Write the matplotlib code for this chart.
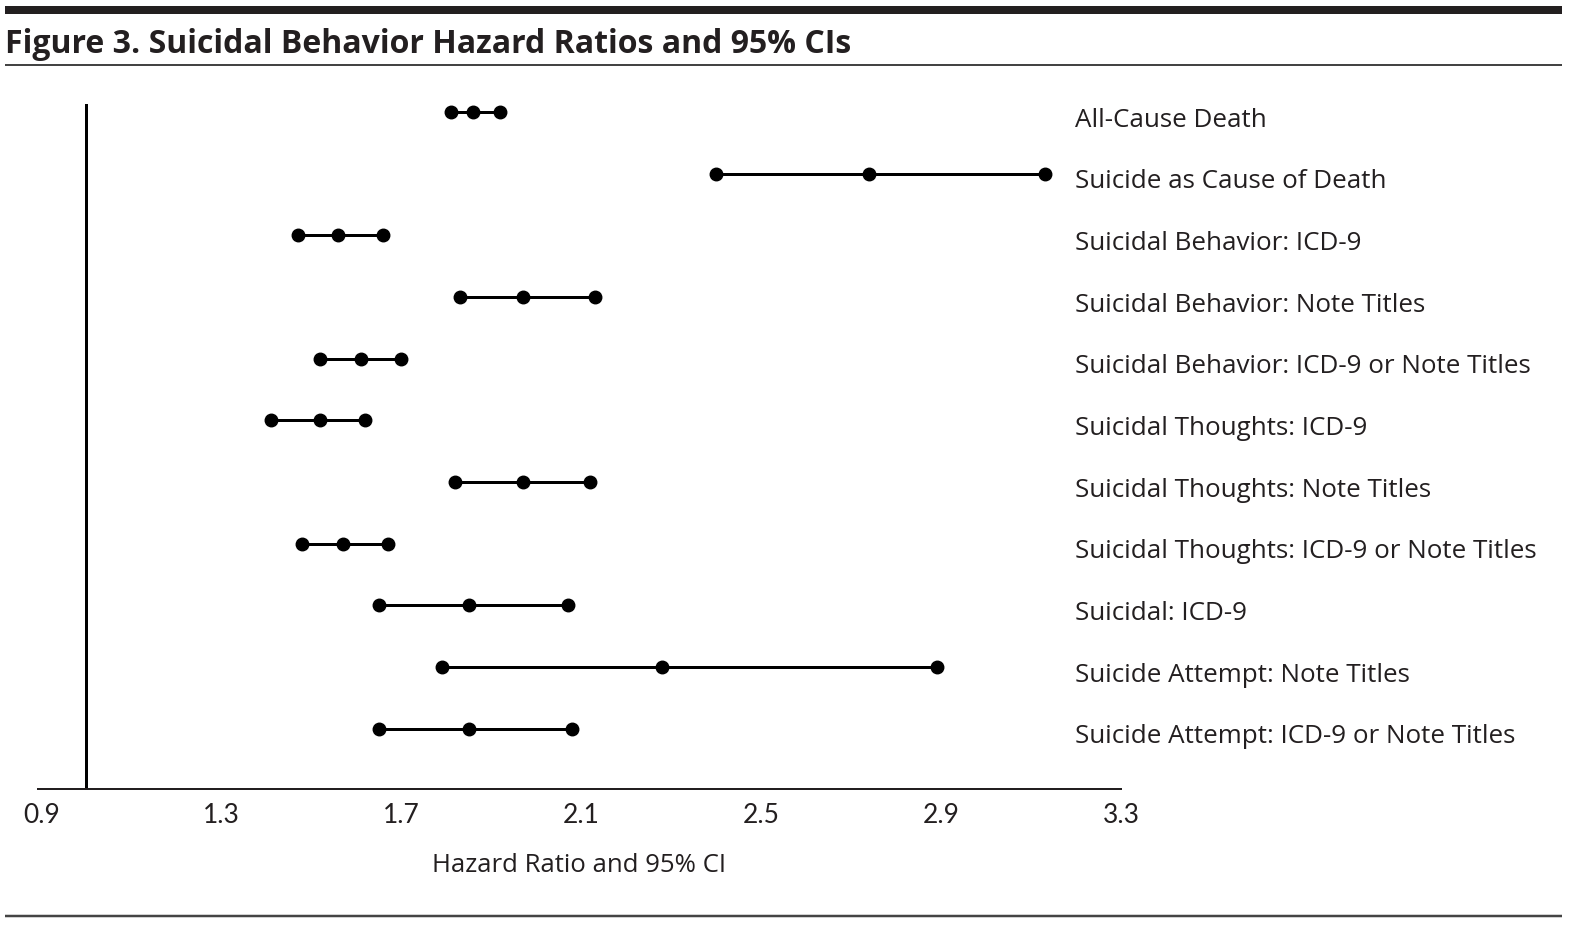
import matplotlib
matplotlib.use("Agg")
import matplotlib.pyplot as plt
from matplotlib.lines import Line2D
import matplotlib.transforms as mtransforms

# ---- data ----
outcomes = [
    "All-Cause Death",
    "Suicide as Cause of Death",
    "Suicidal Behavior: ICD-9",
    "Suicidal Behavior: Note Titles",
    "Suicidal Behavior: ICD-9 or Note Titles",
    "Suicidal Thoughts: ICD-9",
    "Suicidal Thoughts: Note Titles",
    "Suicidal Thoughts: ICD-9 or Note Titles",
    "Suicidal: ICD-9",
    "Suicide Attempt: Note Titles",
    "Suicide Attempt: ICD-9 or Note Titles",
]
hazard_ratio = [1.86, 2.74, 1.56, 1.97, 1.61, 1.52, 1.97, 1.57, 1.85, 2.28, 1.85]
ci_lower = [1.81, 2.40, 1.47, 1.83, 1.52, 1.41, 1.82, 1.48, 1.65, 1.79, 1.65]
ci_upper = [1.92, 3.13, 1.66, 2.13, 1.70, 1.62, 2.12, 1.67, 2.07, 2.89, 2.08]
xticks = [0.9, 1.3, 1.7, 2.1, 2.5, 2.9, 3.3]
reference_hr = 1.0

title = "Figure 3. Suicidal Behavior Hazard Ratios and 95% CIs"
xlabel = "Hazard Ratio and 95% CI"

# ---- style ----
W, H = 1578, 930
INK = "#231f20"
BODY_FONT = ["Open Sans", "DejaVu Sans"]
TICK_FONT = ["Lato", "DejaVu Sans"]
px = 72.0 / 100.0  # points per pixel

fig = plt.figure(figsize=(W / 100, H / 100), dpi=100)
fig.patch.set_facecolor("white")

ax_left, ax_right, ax_top, ax_bottom = 38, 1121, 104, 789
ax = fig.add_axes([ax_left / W, (H - ax_bottom) / H,
                   (ax_right - ax_left) / W, (ax_bottom - ax_top) / H])

row0, row_step = 112, 61.65
ax.set_ylim((ax_bottom - row0) / row_step, (ax_top - row0) / row_step)
ax.set_xlim(0.893, 3.3)

rows = list(range(len(outcomes)))

# reference line
ax.axvline(reference_hr, color="black", lw=3 * px, zorder=1)

for i in rows:
    ax.plot([ci_lower[i], ci_upper[i]], [i, i], color="black", lw=3 * px,
            solid_capstyle="butt", zorder=2)
    ax.plot([ci_lower[i], hazard_ratio[i], ci_upper[i]], [i, i, i],
            linestyle="none", marker="o", markersize=12.5 * px,
            color="black", zorder=3)

for s in ("top", "right", "left"):
    ax.spines[s].set_visible(False)
ax.spines["bottom"].set_linewidth(2 * px)
ax.spines["bottom"].set_color(INK)
ax.set_yticks([])
ax.set_xticks(xticks)
ax.set_xticklabels([f"{t:.1f}" for t in xticks], family=TICK_FONT,
                   fontsize=19, color=INK)
ax.tick_params(axis="x", length=0, pad=10)
ax.set_xlabel(xlabel, family=BODY_FONT, fontsize=18.5, color=INK, labelpad=18)

# row labels at the right
trans = mtransforms.blended_transform_factory(fig.transFigure, ax.transData)
for i, lab in enumerate(outcomes):
    ax.text(1075 / W, i + 0.24, lab, transform=trans, ha="left", va="baseline",
            family=BODY_FONT, fontsize=18.7, color=INK, clip_on=False)

# title and decorative rules
fig.text(5 / W, 1 - 53 / H, title, ha="left", va="baseline",
         family=BODY_FONT, fontweight="bold", fontsize=23, color=INK)
fig.add_artist(Line2D([5 / W, 1562 / W], [1 - 10.5 / H] * 2, lw=8 * px,
                      color=INK, solid_capstyle="butt"))
fig.add_artist(Line2D([5 / W, 1562 / W], [1 - 65 / H] * 2, lw=2 * px,
                      color="#444444", solid_capstyle="butt"))
fig.add_artist(Line2D([5 / W, 1562 / W], [1 - 916 / H] * 2, lw=2.5 * px,
                      color="#444444", solid_capstyle="butt"))

fig.savefig("out.png", dpi=100, facecolor="white")
